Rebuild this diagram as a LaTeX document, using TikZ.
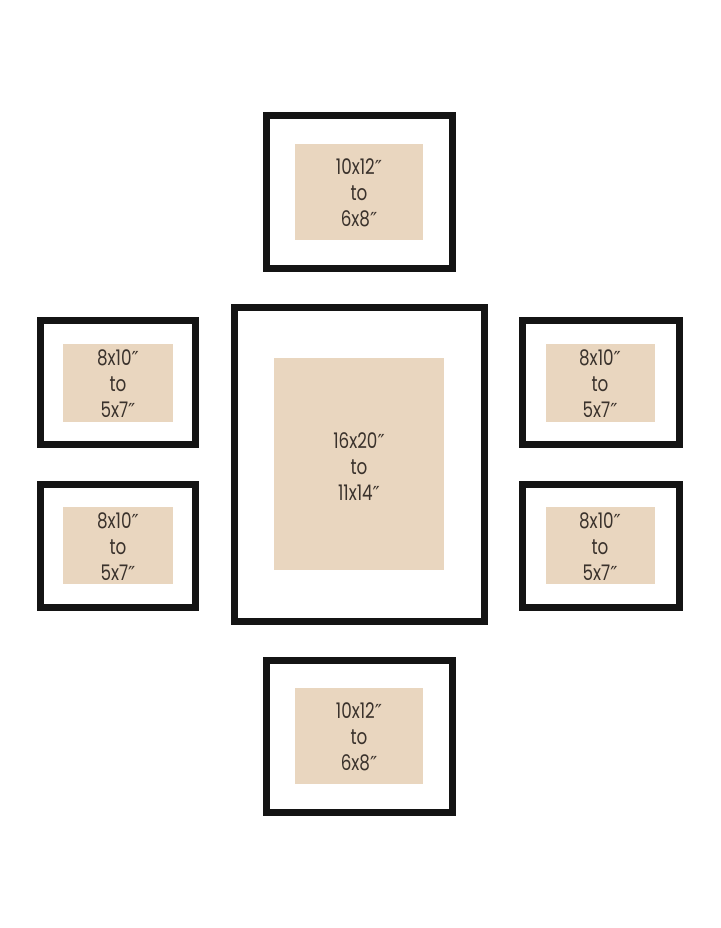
\documentclass[tikz,border=0pt]{standalone}
\usepackage{fontspec}
\setmainfont{Poppins}[FakeStretch=0.78]
\newfontfamily\primefont{DejaVu Sans}[Scale=0.9]
\usepackage{tikz}
\usetikzlibrary{positioning}
\usepackage{xcolor}

\definecolor{matbeige}{RGB}{233,214,191}
\definecolor{inkgray}{RGB}{58,50,44}

\newcommand{\inch}{{\primefont ″}}

\tikzset{
  frame/.style={draw=black!92, line width=7pt},
  mat/.style={fill=matbeige},
  sizetext/.style={align=center, text=inkgray, font=\fontsize{21.5}{26}\selectfont, inner sep=0pt}
}

\begin{document}
\begin{tikzpicture}[x=1pt, y=-1pt]

\useasboundingbox (0,0) rectangle (720,928);

%mats
\fill[mat] (295,144) rectangle (423,240);
\fill[mat] (63,344) rectangle (173,422);
\fill[mat] (63,507) rectangle (173,584);
\fill[mat] (274,358) rectangle (444,570);
\fill[mat] (546,344) rectangle (655,422);
\fill[mat] (546,507) rectangle (655,584);
\fill[mat] (295,688) rectangle (423,784);

%frames
\draw[frame] (266.5,115.5) rectangle (452.5,268.5);
\draw[frame] (40,320.5) rectangle (195.5,444.5);
\draw[frame] (40,484.5) rectangle (195.5,607.5);
\draw[frame] (234.5,307.5) rectangle (484.5,621.5);
\draw[frame] (522.5,320.5) rectangle (679,444.5);
\draw[frame] (522.5,484.5) rectangle (679,607.5);
\draw[frame] (266.5,660.5) rectangle (452.5,812.5);

%labels
\node[sizetext] (top) at (359,193) {10x12\inch\\to\\6x8\inch};
\node[sizetext] (lefttop) at (118,384) {8x10\inch\\to\\5x7\inch};
\node[sizetext] (leftbottom) at (118,547) {8x10\inch\\to\\5x7\inch};
\node[sizetext] (center) at (359,467) {16x20\inch\\to\\11x14\inch};
\node[sizetext] (righttop) at (600,384) {8x10\inch\\to\\5x7\inch};
\node[sizetext] (rightbottom) at (600,547) {8x10\inch\\to\\5x7\inch};
\node[sizetext] (bottom) at (359,737) {10x12\inch\\to\\6x8\inch};

\end{tikzpicture}
\end{document}
